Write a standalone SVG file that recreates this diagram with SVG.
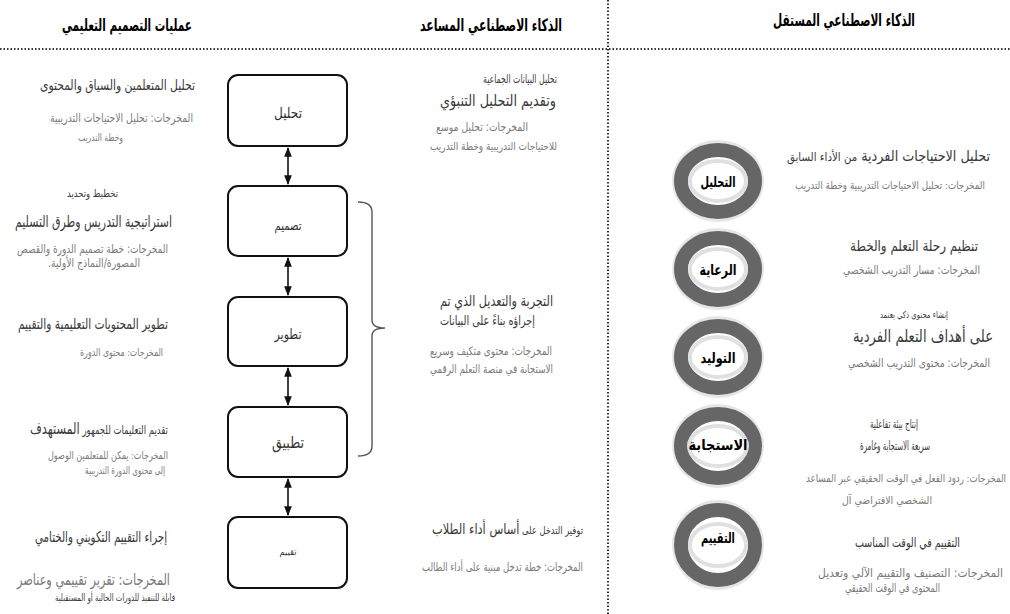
<svg xmlns="http://www.w3.org/2000/svg" width="1010" height="614" viewBox="0 0 1010 614">
<defs>
<marker id="ah" viewBox="0 0 10 10" refX="9" refY="5" markerWidth="6" markerHeight="6" orient="auto-start-reverse">
<path d="M0,1 L10,5 L0,9 z" fill="#111"/>
</marker>
<style>
text{font-family:"DejaVu Sans","Noto Sans",sans-serif;direction:rtl;text-anchor:start}
.title{font-weight:bold;font-size:17px;fill:#000}
.main{fill:#3a3a3a}
.out{fill:#7a7a7a}
.box{fill:#fff;stroke:#111;stroke-width:2}
.blabel{fill:#333;text-anchor:middle}
.clabel{font-weight:bold;fill:#000;text-anchor:middle;font-size:15px}
.halo{fill:#e6e6e6}
.ring{fill:#fff;stroke:#666;stroke-width:14}
.inner{fill:#fff;stroke:#e0e0e0;stroke-width:4}
.conn{stroke:#111;stroke-width:1.6;fill:none}
.sep{stroke:#333;stroke-width:2;stroke-dasharray:1.5 2;fill:none}
</style>
</defs>
<rect width="1010" height="614" fill="#fff"/>

<g id="headers">
<text class="title" x="192" y="31" textLength="130" lengthAdjust="spacingAndGlyphs">عمليات التصميم التعليمي</text>
<text class="title" x="562" y="31" textLength="142" lengthAdjust="spacingAndGlyphs">الذكاء الاصطناعي المساعد</text>
<text class="title" x="915" y="26" textLength="142" lengthAdjust="spacingAndGlyphs">الذكاء الاصطناعي المستقل</text>
<path class="sep" d="M0,49 H1010"/>
<path class="sep" d="M608,0 V614"/>
</g>

<g id="connectors">
<line class="conn" x1="288" y1="148" x2="288" y2="184" marker-start="url(#ah)" marker-end="url(#ah)"/>
<line class="conn" x1="288" y1="258" x2="288" y2="295" marker-start="url(#ah)" marker-end="url(#ah)"/>
<line class="conn" x1="288" y1="368" x2="288" y2="405" marker-start="url(#ah)" marker-end="url(#ah)"/>
<line class="conn" x1="288" y1="479" x2="288" y2="515" marker-start="url(#ah)" marker-end="url(#ah)"/>
<path d="M358,202 Q372,202 372,212 L372,320 Q372,328 385,328 Q372,328 372,336 L372,446 Q372,456 358,456" fill="none" stroke="#555" stroke-width="1.4"/>
</g>

<g id="box-analysis">
<rect class="box" x="228" y="75" width="119" height="71" rx="10"/>
<text class="blabel" x="288" y="118" font-size="15" textLength="28" lengthAdjust="spacingAndGlyphs">تحليل</text>
</g>
<g id="box-design">
<rect class="box" x="228" y="186" width="119" height="70" rx="10"/>
<text class="blabel" x="288" y="230" font-size="13" textLength="27" lengthAdjust="spacingAndGlyphs">تصميم</text>
</g>
<g id="box-develop">
<rect class="box" x="228" y="297" width="119" height="69" rx="10"/>
<text class="blabel" x="288" y="339" font-size="14" textLength="27" lengthAdjust="spacingAndGlyphs">تطوير</text>
</g>
<g id="box-implement">
<rect class="box" x="228" y="407" width="119" height="70" rx="10"/>
<text class="blabel" x="288" y="448" font-size="16" textLength="32" lengthAdjust="spacingAndGlyphs">تطبيق</text>
</g>
<g id="box-evaluate">
<rect class="box" x="228" y="517" width="119" height="71" rx="10"/>
<text class="blabel" x="288" y="555" font-size="9" textLength="17" lengthAdjust="spacingAndGlyphs">تقييم</text>
</g>

<g id="left-analysis">
<text class="main" x="195" y="90" font-size="14" textLength="155" lengthAdjust="spacingAndGlyphs">تحليل المتعلمين والسياق والمحتوى</text>
<text class="out" x="193" y="122" font-size="12" textLength="143" lengthAdjust="spacingAndGlyphs">المخرجات: تحليل الاحتياجات التدريبية</text>
<text class="out" x="123" y="141" font-size="10" textLength="45" lengthAdjust="spacingAndGlyphs">وخطة التدريب</text>
</g>
<g id="left-design">
<text class="main" x="118" y="197" font-size="10.5" textLength="51" lengthAdjust="spacingAndGlyphs">تخطيط وتحديد</text>
<text class="main" x="172" y="227" font-size="16" textLength="157" lengthAdjust="spacingAndGlyphs">استراتيجية التدريس   وطرق التسليم</text>
<text class="out" x="168" y="253" font-size="12" textLength="151" lengthAdjust="spacingAndGlyphs">المخرجات: خطة تصميم الدورة والقصص</text>
<text class="out" x="140" y="267" font-size="12" textLength="92" lengthAdjust="spacingAndGlyphs">المصورة/النماذج الأولية.</text>
</g>
<g id="left-develop">
<text class="main" x="168" y="329" font-size="15" textLength="150" lengthAdjust="spacingAndGlyphs">تطوير المحتويات   التعليمية والتقييم</text>
<text class="out" x="163" y="356" font-size="11" textLength="83" lengthAdjust="spacingAndGlyphs">المخرجات: محتوى الدورة</text>
</g>
<g id="left-implement">
<text class="main" x="168" y="434" font-size="12" textLength="138" lengthAdjust="spacingAndGlyphs">تقديم التعليمات للجمهور <tspan font-size="16">المستهدف</tspan></text>
<text class="out" x="168" y="459" font-size="11" textLength="120" lengthAdjust="spacingAndGlyphs">المخرجات: يمكن للمتعلمين الوصول</text>
<text class="out" x="165" y="474" font-size="10.5" textLength="80" lengthAdjust="spacingAndGlyphs">إلى محتوى الدورة التدريبية</text>
</g>
<g id="left-evaluate">
<text class="main" x="167" y="542" font-size="15" textLength="132" lengthAdjust="spacingAndGlyphs">إجراء التقييم التكويني والختامي</text>
<text class="out" x="170" y="585" font-size="16" textLength="153" lengthAdjust="spacingAndGlyphs">المخرجات: تقرير تقييمي وعناصر</text>
<text class="main" x="175" y="601" font-size="10" textLength="120" lengthAdjust="spacingAndGlyphs">قابلة للتنفيذ للدورات الحالية  أو المستقبلية</text>
</g>

<g id="mid-analysis">
<text class="main" x="557" y="83" font-size="12" textLength="74" lengthAdjust="spacingAndGlyphs">تحليل البيانات الجماعية</text>
<text class="main" x="556" y="106" font-size="16" textLength="116" lengthAdjust="spacingAndGlyphs">وتقديم التحليل التنبؤي</text>
<text class="out" x="528" y="131" font-size="11.5" textLength="92" lengthAdjust="spacingAndGlyphs">المخرجات: تحليل موسع</text>
<text class="out" x="557" y="150" font-size="11" textLength="127" lengthAdjust="spacingAndGlyphs">للاحتياجات التدريبية وخطة التدريب</text>
</g>
<g id="mid-develop">
<text class="main" x="553" y="306" font-size="15" textLength="113" lengthAdjust="spacingAndGlyphs">التجربة والتعديل الذي تم</text>
<text class="main" x="535" y="325" font-size="13" textLength="95" lengthAdjust="spacingAndGlyphs">إجراؤه بناءً على البيانات</text>
<text class="out" x="552" y="355" font-size="11.5" textLength="122" lengthAdjust="spacingAndGlyphs">المخرجات: محتوى متكيف وسريع</text>
<text class="out" x="553" y="373" font-size="11.5" textLength="123" lengthAdjust="spacingAndGlyphs">الاستجابة في منصة التعلم الرقمي</text>
</g>
<g id="mid-evaluate">
<text class="main" x="583" y="534" font-size="11" textLength="151" lengthAdjust="spacingAndGlyphs">توفير التدخل على <tspan font-size="15">أساس أداء الطلاب</tspan></text>
<text class="out" x="583" y="571" font-size="11.5" textLength="161" lengthAdjust="spacingAndGlyphs">المخرجات: خطة تدخل مبنية على أداء الطالب</text>
</g>

<g id="ai-analysis">
<ellipse class="halo" cx="718" cy="181" rx="46" ry="41"/>
<ellipse class="ring" cx="718" cy="181" rx="37" ry="31"/>
<ellipse class="inner" cx="718" cy="181" rx="28" ry="20"/>
<text class="clabel" x="718" y="187" textLength="35" lengthAdjust="spacingAndGlyphs">التحليل</text>
</g>
<g id="ai-care">
<ellipse class="halo" cx="718" cy="269" rx="46" ry="41"/>
<ellipse class="ring" cx="718" cy="269" rx="37" ry="31"/>
<ellipse class="inner" cx="718" cy="269" rx="28" ry="20"/>
<text class="clabel" x="718" y="275" textLength="37" lengthAdjust="spacingAndGlyphs">الرعاية</text>
</g>
<g id="ai-generate">
<ellipse class="halo" cx="718" cy="357" rx="46" ry="41"/>
<ellipse class="ring" cx="718" cy="357" rx="37" ry="31"/>
<ellipse class="inner" cx="718" cy="357" rx="28" ry="20"/>
<text class="clabel" x="718" y="363" textLength="35" lengthAdjust="spacingAndGlyphs">التوليد</text>
</g>
<g id="ai-respond">
<ellipse class="halo" cx="718" cy="446" rx="46" ry="42"/>
<ellipse class="ring" cx="718" cy="446" rx="37" ry="32"/>
<ellipse class="inner" cx="718" cy="446" rx="29" ry="20"/>
<text class="clabel" x="718" y="450" textLength="59" lengthAdjust="spacingAndGlyphs">الاستجابة</text>
</g>
<g id="ai-evaluate">
<ellipse class="halo" cx="718" cy="545" rx="46" ry="45"/>
<ellipse class="ring" cx="718" cy="545" rx="37" ry="35"/>
<ellipse class="inner" cx="718" cy="545" rx="28" ry="21"/>
<text class="clabel" x="718" y="543" textLength="34" lengthAdjust="spacingAndGlyphs">التقييم</text>
</g>

<g id="right-analysis">
<text class="main" x="990" y="161" font-size="15" textLength="203" lengthAdjust="spacingAndGlyphs">تحليل الاحتياجات الفردية   <tspan font-size="12">من الأداء السابق</tspan></text>
<text class="out" x="985" y="189" font-size="11" textLength="190" lengthAdjust="spacingAndGlyphs">المخرجات: تحليل الاحتياجات التدريبية وخطة التدريب</text>
</g>
<g id="right-care">
<text class="main" x="978" y="251" font-size="15" textLength="128" lengthAdjust="spacingAndGlyphs">تنظيم رحلة التعلم والخطة</text>
<text class="out" x="980" y="274" font-size="12" textLength="137" lengthAdjust="spacingAndGlyphs">المخرجات: مسار التدريب الشخصي</text>
</g>
<g id="right-generate">
<text class="main" x="948" y="318" font-size="9.5" textLength="68" lengthAdjust="spacingAndGlyphs">إنشاء محتوى ذكي يعتمد</text>
<text class="main" x="993" y="342" font-size="17" textLength="140" lengthAdjust="spacingAndGlyphs">على أهداف التعلم الفردية</text>
<text class="out" x="990" y="367" font-size="12" textLength="142" lengthAdjust="spacingAndGlyphs">المخرجات: محتوى التدريب الشخصي</text>
</g>
<g id="right-respond">
<text class="main" x="918" y="428" font-size="12" textLength="48" lengthAdjust="spacingAndGlyphs">إنتاج بيئة تفاعلية</text>
<text class="main" x="930" y="450" font-size="12.5" textLength="70" lengthAdjust="spacingAndGlyphs">سريعة الاستجابة وغامرة</text>
<text class="out" x="1006" y="482" font-size="11" textLength="200" lengthAdjust="spacingAndGlyphs">المخرجات: ردود الفعل في الوقت الحقيقي عبر المساعد</text>
<text class="out" x="932" y="504" font-size="11" textLength="90" lengthAdjust="spacingAndGlyphs">الشخصي الافتراضي آل</text>
</g>
<g id="right-evaluate">
<text class="main" x="960" y="547" font-size="13" textLength="105" lengthAdjust="spacingAndGlyphs">التقييم في الوقت المناسب</text>
<text class="out" x="1003" y="577" font-size="12" textLength="185" lengthAdjust="spacingAndGlyphs">المخرجات: التصنيف والتقييم الآلي وتعديل</text>
<text class="out" x="940" y="592" font-size="12" textLength="95" lengthAdjust="spacingAndGlyphs">المحتوى في الوقت الحقيقي</text>
</g>
</svg>
